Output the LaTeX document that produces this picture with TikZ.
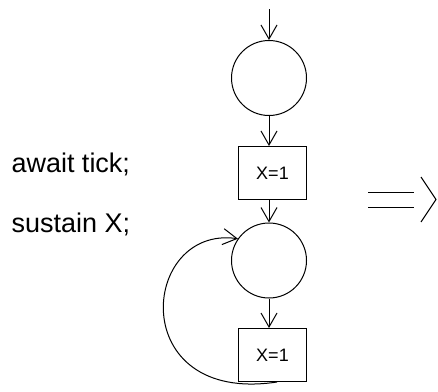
\documentclass[tikz,border=0pt]{standalone}
\usepackage{fontspec}
\setmainfont{Liberation Sans}
\usetikzlibrary{arrows.meta}

\begin{document}
\begin{tikzpicture}[x=1pt, y=-1pt, line width=1pt,
    state/.style={draw, circle, minimum size=75pt, inner sep=0pt},
    emit/.style={draw, rectangle, minimum width=68pt, minimum height=53pt, inner sep=0pt, font=\fontsize{18}{20}\selectfont},
    stmt/.style={anchor=base west, inner sep=0pt, font=\fontsize{27}{32}\selectfont},
    >={Straight Barb[length=14pt, width=16pt]}]
  \useasboundingbox (0,0) rectangle (438,391);
  \node[stmt] (T1) at (11, 172) {await tick;};
  \node[stmt] (T2) at (11, 232) {sustain X;};

  \node[state] (C1) at (269, 78) {};
  \node[emit] (B1) at (272.5, 173) {X=1};
  \node[state] (C2) at (269, 260.5) {};
  \node[emit] (B2) at (272.5, 355) {X=1};
  \coordinate (start) at (269, 9);
  \draw[->] (start) to (C1);
  \draw[->] (C1.south) to (C1.south |- B1.north);
  \draw[->] (C1.south |- B1.south) to (C2);
  \draw[->] (C2.south) to (C2.south |- B2.north);
  \draw[->] ([xshift=4.5pt]B2.south) .. controls (125, 405) and (140, 225) .. (C2.145);

  % implies sign
  \draw (368, 192) -- (414, 192);
  \draw (368, 207) -- (414, 207);
  \draw (421, 177) -- (436, 199.5) -- (421, 222);
\end{tikzpicture}
\end{document}
